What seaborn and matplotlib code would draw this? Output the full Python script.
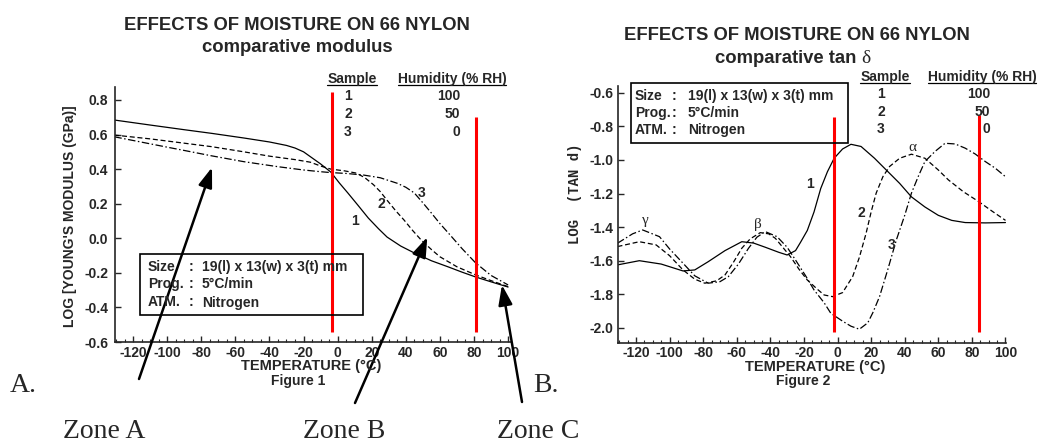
#############################################
########## 1. Import Libraries
#############################################
import matplotlib
matplotlib.use("Agg")
import matplotlib.pyplot as plt
from matplotlib.patches import Rectangle
from matplotlib.lines import Line2D
from matplotlib.ticker import MultipleLocator
import pandas as pd
import seaborn as sns

#############################################
########## 2. Data
#############################################
# Figure 1 - log Young's modulus vs temperature
mod_temp_1 = [-131, -110, -90, -74, -55, -40, -30, -25, -20, -16, -10, -4, 1, 6, 12, 18, 24, 29, 37, 45, 55, 65, 73, 81, 90, 100]
mod_val_1 = [0.684, 0.655, 0.628, 0.607, 0.58, 0.557, 0.537, 0.522, 0.50, 0.472, 0.43, 0.383, 0.32, 0.262, 0.19, 0.117, 0.055, 0.007, -0.045, -0.085, -0.13, -0.166, -0.196, -0.224, -0.252, -0.282]

mod_temp_2 = [-131, -110, -90, -74, -55, -40, -25, -16, -10, -4, 4, 11, 16, 21, 25, 29, 34, 39, 44, 49, 55, 60, 70, 81, 90, 100]
mod_val_2 = [0.597, 0.575, 0.55, 0.53, 0.50, 0.475, 0.455, 0.44, 0.418, 0.40, 0.39, 0.377, 0.35, 0.31, 0.27, 0.22, 0.16, 0.105, 0.045, -0.01, -0.065, -0.107, -0.165, -0.212, -0.245, -0.28]

mod_temp_3 = [-131, -115, -100, -90, -74, -55, -35, -20, -10, -4, 5, 15, 25, 35, 40, 45, 50, 55, 60, 65, 73, 81, 90, 100]
mod_val_3 = [0.587, 0.556, 0.527, 0.508, 0.477, 0.443, 0.414, 0.395, 0.385, 0.38, 0.375, 0.366, 0.35, 0.318, 0.295, 0.262, 0.205, 0.146, 0.085, 0.03, -0.06, -0.143, -0.215, -0.27]

# Figure 2 - log tan delta vs temperature
tan_temp_1 = [-131, -118, -105, -92, -85, -77, -67, -57, -50, -43, -35, -30, -25, -22, -18, -14, -10, -6, -2, 3, 8, 14, 22, 29, 37, 44, 52, 60, 68, 76, 88, 100]
tan_val_1 = [-1.625, -1.60, -1.62, -1.661, -1.655, -1.606, -1.54, -1.487, -1.495, -1.52, -1.55, -1.566, -1.54, -1.49, -1.42, -1.31, -1.17, -1.07, -0.99, -0.935, -0.907, -0.92, -0.99, -1.06, -1.14, -1.22, -1.28, -1.33, -1.36, -1.373, -1.375, -1.373]

tan_temp_2 = [-131, -118, -108, -100, -92, -85, -79, -72, -67, -62, -57, -52, -46, -41, -37, -28, -23, -18, -12, -8, -3, 3, 9, 13, 17, 20, 23, 27, 31, 37, 44, 52, 60, 66, 75, 84, 92, 100]
tan_val_2 = [-1.516, -1.487, -1.506, -1.57, -1.655, -1.71, -1.734, -1.72, -1.685, -1.61, -1.526, -1.47, -1.433, -1.44, -1.467, -1.576, -1.65, -1.715, -1.77, -1.804, -1.814, -1.79, -1.695, -1.58, -1.437, -1.31, -1.198, -1.10, -1.039, -0.99, -0.966, -0.99, -1.06, -1.119, -1.19, -1.248, -1.305, -1.36]

tan_temp_3 = [-131, -122, -116, -106, -100, -92, -85, -77, -70, -65, -59, -53, -48, -43, -36, -30, -25, -19, -14, -8, -4, 3, 8, 13, 18, 21, 25, 30, 35, 40, 44, 48, 52, 58, 64, 70, 76, 82, 88, 94, 100]
tan_val_3 = [-1.496, -1.44, -1.417, -1.457, -1.53, -1.615, -1.69, -1.734, -1.725, -1.695, -1.62, -1.526, -1.46, -1.427, -1.457, -1.52, -1.596, -1.69, -1.774, -1.85, -1.913, -1.96, -1.99, -2.008, -1.97, -1.91, -1.814, -1.65, -1.477, -1.33, -1.198, -1.10, -1.01, -0.95, -0.901, -0.905, -0.93, -0.965, -1.01, -1.05, -1.10]

samples = ["1", "2", "3"]
humidity = ["100", "50", "0"]
x_ticks = [-120, -100, -80, -60, -40, -20, 0, 20, 40, 60, 80, 100]
mod_ticks = [-0.6, -0.4, -0.2, 0.0, 0.2, 0.4, 0.6, 0.8]
tan_ticks = [-2.0, -1.8, -1.6, -1.4, -1.2, -1.0, -0.8, -0.6]

# Zone markers (red lines) in temperature
mod_zone_lines = [-3.5, 81]
tan_zone_lines = [-2, 84]

#############################################
########## 3. Helpers
#############################################
W, H = 1039, 444

def px(x, y):
    # figure pixel (from top-left) -> figure fraction
    return x / W, 1 - y / H

def make_frame(temps, vals):
    frames = []
    for s, t, v in zip(samples, temps, vals):
        frames.append(pd.DataFrame({"temp": t, "value": v, "sample": s}))
    return pd.concat(frames, ignore_index=True)

line_styles = {"1": "-", "2": (0, (4, 2.2)), "3": (0, (6, 2, 1.2, 2))}

def draw_curves(ax, df):
    for s in samples:
        sub = df[df["sample"] == s]
        sns.lineplot(data=sub, x="temp", y="value", ax=ax, color="black",
                     linestyle=line_styles[s], linewidth=0.9, estimator=None, sort=False)

def style_axes(ax, xlim, ylim, yticks, ypad, xpad):
    ax.set_xlim(*xlim)
    ax.set_ylim(*ylim)
    ax.set_xticks(x_ticks)
    ax.set_yticks(yticks)
    ax.xaxis.set_minor_locator(MultipleLocator(5))
    ax.set_xticklabels([f"{t}" for t in x_ticks])
    ax.set_yticklabels([f"{t:.1f}" for t in yticks])
    ax.set_xlabel("")
    ax.set_ylabel("")
    for side in ["top", "right"]:
        ax.spines[side].set_visible(False)
    for side in ["left", "bottom"]:
        ax.spines[side].set_linewidth(1.2)
    ax.tick_params(axis="both", which="major", direction="in", length=4.5, width=1.0,
                   labelsize=10)
    ax.tick_params(axis="x", which="minor", direction="in", length=2, width=0.8)
    ax.tick_params(axis="x", which="major", pad=xpad)
    ax.tick_params(axis="y", which="major", pad=ypad)
    for lab in ax.get_xticklabels() + ax.get_yticklabels():
        lab.set_fontweight("bold")
    ax.set_facecolor("none")

def fig_text(x, y, s, **kw):
    fx, fy = px(x, y)
    return fig.text(fx, fy, s, **kw)

#############################################
########## 4. Plot
#############################################
sns.set_style("ticks")
plt.rcParams["font.family"] = ["Liberation Sans", "DejaVu Sans"]

fig = plt.figure(figsize=(W / 100, H / 100), dpi=100)
fig.patch.set_facecolor("white")

ax1 = fig.add_axes([115 / W, 1 - 342 / H, 396 / W, 255 / H])
ax2 = fig.add_axes([618 / W, 1 - 343 / H, 388 / W, 257 / H])

mod_df = make_frame([mod_temp_1, mod_temp_2, mod_temp_3], [mod_val_1, mod_val_2, mod_val_3])
tan_df = make_frame([tan_temp_1, tan_temp_2, tan_temp_3], [tan_val_1, tan_val_2, tan_val_3])

draw_curves(ax1, mod_df)
draw_curves(ax2, tan_df)

style_axes(ax1, (-130.6, 101.7), (-0.6, 0.875), mod_ticks, 5, 3)
style_axes(ax2, (-130.7, 100.3), (-2.09, -0.56), tan_ticks, 3, 2.5)

# Red zone lines
ax1.vlines(mod_zone_lines[0], -0.542, 0.846, color="red", linewidth=2.2, zorder=5, clip_on=False)
ax1.vlines(mod_zone_lines[1], -0.542, 0.70, color="red", linewidth=2.2, zorder=5, clip_on=False)
ax2.vlines(tan_zone_lines[0], -2.024, -0.744, color="red", linewidth=2.2, zorder=5, clip_on=False)
ax2.vlines(tan_zone_lines[1], -2.024, -0.732, color="red", linewidth=2.2, zorder=5, clip_on=False)

# Curve labels
bold10 = dict(fontsize=10, fontweight="bold", ha="center", va="center")
for (t, v), s in zip([(10.2, 0.10), (25.6, 0.198), (49, 0.262)], samples):
    ax1.text(t, v, s, **bold10)
for (t, v), s in zip([(-16.6, -1.143), (14.3, -1.316), (32.1, -1.506)], samples):
    ax2.text(t, v, s, **bold10)
greek = dict(fontsize=11, family=["Liberation Serif", "DejaVu Serif"], ha="center", va="center")
ax2.text(-114.7, -1.363, "γ", **greek)
ax2.text(-47.6, -1.387, "β", **greek)
ax2.text(44.6, -0.929, "α", **greek)

# Titles
title_kw = dict(fontsize=13.3, fontweight="bold", ha="center", va="baseline")
fig_text(297, 30, "EFFECTS OF MOISTURE ON 66 NYLON", **title_kw)
fig_text(297, 52, "comparative modulus", **title_kw)
fig_text(797, 40, "EFFECTS OF MOISTURE ON 66 NYLON", **title_kw)
fig_text(788, 63, "comparative tan ", **title_kw)
fig_text(866, 63, "δ", fontsize=14, family=["Liberation Serif", "DejaVu Serif"], ha="center", va="baseline")

# Axis labels
fig_text(70, 216, "LOG [YOUNG'S MODULUS (GPa)]", rotation=90, fontsize=10, fontweight="bold",
         ha="center", va="center")
fig_text(575, 194, "LOG  (TAN d)", rotation=90, fontsize=10, fontweight="bold",
         family=["Liberation Mono", "DejaVu Sans Mono"], ha="center", va="center")
lab_kw = dict(fontsize=10.5, fontweight="bold", ha="center", va="baseline")
fig_text(311, 370, "TEMPERATURE (°C)", **lab_kw)
fig_text(298, 384.5, "Figure 1", **dict(lab_kw, fontsize=10))
fig_text(815, 371, "TEMPERATURE (°C)", **lab_kw)
fig_text(803, 385.5, "Figure 2", **dict(lab_kw, fontsize=10))

# Sample / humidity tables
headers = []
for sx, hx, base, rows, vx in [(352, 452, 83, [100.5, 118.5, 136.5], 460),
                               (885, 982, 81, [98, 116, 133], 990)]:
    headers.append((fig_text(sx, base, "Sample", fontsize=10, fontweight="bold", ha="center", va="baseline"), base))
    headers.append((fig_text(hx, base, "Humidity (% RH)", fontsize=10, fontweight="bold", ha="center", va="baseline"), base))
    for s, h, ry in zip(samples, humidity, rows):
        fig_text(sx - 4, ry, s, fontsize=10, fontweight="bold", ha="center", va="baseline")
        fig_text(vx, ry, h, fontsize=10, fontweight="bold", ha="right", va="baseline")

# Info boxes
info_labels = ["Size", "Prog.", "ATM."]
info_values = ["19(l) x 13(w) x 3(t) mm", "5\u00b0C/min", "Nitrogen"]
for (x0, y0, x1, y1), lx, cx, vx, rows in [((140, 254, 363, 315), 148, 189, 202, [270.5, 288, 306.5]),
                                           ((631, 83, 848, 143), 635, 672, 688, [100, 117, 134])]:
    bx, by = px(x0, y1)
    fig.add_artist(Rectangle((bx, by), (x1 - x0) / W, (y1 - y0) / H, transform=fig.transFigure,
                             fill=False, edgecolor="black", linewidth=1.2))
    for lab, val, ry in zip(info_labels, info_values, rows):
        fig_text(lx, ry, lab, fontsize=10, fontweight="bold", va="baseline")
        fig_text(cx, ry, ":", fontsize=10, fontweight="bold", va="baseline")
        fig_text(vx, ry, val, fontsize=10, fontweight="bold", va="baseline")

# Panel letters and zone captions
serif = dict(fontsize=20, family=["Liberation Serif", "DejaVu Serif"], ha="left")
fig_text(10, 392, "A.", va="baseline", **serif)
fig_text(533, 392, "B.", va="baseline", **serif)
fig_text(63, 443.5, "Zone A", va="bottom", **serif)
fig_text(303, 443.5, "Zone B", va="bottom", **serif)
fig_text(497, 443.5, "Zone C", va="bottom", **serif)

# Zone arrows (tip in data coords, tail in figure fraction)
arrow_kw = dict(arrowstyle="-|>,head_length=1.2,head_width=0.42", color="black", lw=1.8,
                shrinkA=0, shrinkB=0, mutation_scale=10)
for tip, tail in [((-73.7, 0.41), (139, 379)), ((52.6, 0.007), (355, 403)), ((96.4, -0.27), (522, 402))]:
    ax1.annotate("", xy=tip, xycoords="data", xytext=px(*tail), textcoords="figure fraction",
                 arrowprops=arrow_kw, annotation_clip=False, zorder=6)

# Underline the table headers
fig.canvas.draw()
renderer = fig.canvas.get_renderer()
for t, base in headers:
    bb = t.get_window_extent(renderer)
    yy = 1 - (base + 2) / H
    fig.add_artist(Line2D([bb.x0 / W, bb.x1 / W], [yy, yy], transform=fig.transFigure,
                          color="black", linewidth=0.9))

fig.savefig("out.png", dpi=100, facecolor="white")
print("saved out.png")
